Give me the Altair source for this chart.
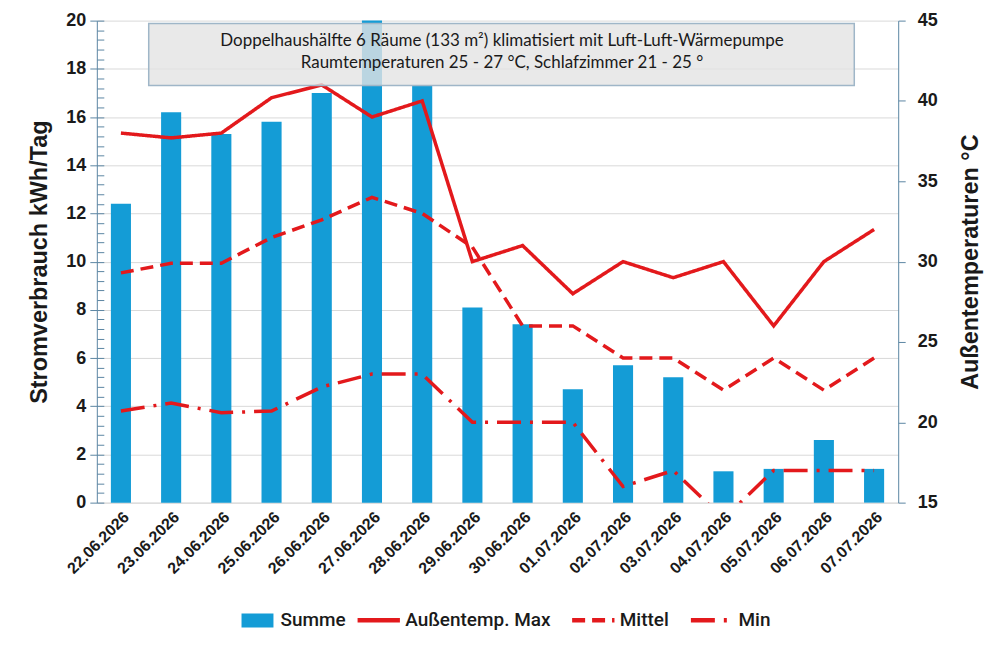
import altair as alt
import pandas as pd

dates = ["22.06.2026", "23.06.2026", "24.06.2026", "25.06.2026", "26.06.2026",
         "27.06.2026", "28.06.2026", "29.06.2026", "30.06.2026", "01.07.2026",
         "02.07.2026", "03.07.2026", "04.07.2026", "05.07.2026", "06.07.2026",
         "07.07.2026"]
summe = [12.4, 16.2, 15.3, 15.8, 17.0, 20.0, 17.3, 8.1, 7.4, 4.7, 5.7, 5.2, 1.3, 1.4, 2.6, 1.4]
t_max = [38.0, 37.7, 38.0, 40.2, 41.0, 39.0, 40.0, 30.0, 31.0, 28.0, 30.0, 29.0, 30.0, 26.0, 30.0, 32.0]
t_mittel = [29.3, 29.9, 29.9, 31.5, 32.6, 34.0, 33.0, 30.9, 26.0, 26.0, 24.0, 24.0, 22.0, 24.0, 22.0, 24.0]
t_min = [20.7, 21.2, 20.6, 20.7, 22.2, 23.0, 23.0, 20.0, 20.0, 20.0, 16.0, 17.0, 14.0, 17.0, 17.0, 17.0]

series_names = ["Außentemp. Max", "Mittel", "Min"]
left_ticks = [0, 2, 4, 6, 8, 10, 12, 14, 16, 18, 20]
left_minor = [round(i * 0.4, 1) for i in range(51)]
right_ticks = [15, 20, 25, 30, 35, 40, 45]
title_lines = ["Doppelhaushälfte 6 Räume (133 m²) klimatisiert mit Luft-Luft-Wärmepumpe",
               "Raumtemperaturen 25 - 27 °C, Schlafzimmer 21 - 25 °"]

BLUE = "#149cd6"
RED = "#e3191c"
AXC = "#5b86a3"
FONT = "Liberation Sans"
LFONT = "Roboto"

bars_df = pd.DataFrame({"date": dates, "summe": summe, "k": "Summe"})
lines_df = pd.DataFrame({
    "date": dates * 3,
    "series": [series_names[0]] * 16 + [series_names[1]] * 16 + [series_names[2]] * 16,
    "value": t_max + t_mittel + t_min,
})
one = pd.DataFrame({"a": [0]})

xenc = alt.X("date:N", sort=dates, title=None,
             scale=alt.Scale(paddingInner=0.6, paddingOuter=0.28),
             axis=alt.Axis(labelAngle=-45, labelFontSize=16, labelFontWeight="bold",
                           labelFont=FONT, labelColor="#1a1a1a", ticks=False,
                           domainColor="#d9d9d9", labelPadding=6))

bars = alt.Chart(bars_df).mark_bar(color=BLUE).encode(
    x=xenc,
    y=alt.Y("summe:Q", title="Stromverbrauch kWh/Tag",
            scale=alt.Scale(domain=[0, 20], nice=False),
            axis=alt.Axis(orient="left", values=left_ticks, grid=True, gridColor="#d9d9d9",
                          domainColor=AXC, tickColor=AXC, tickSize=7, labelFontSize=18,
                          labelFontWeight="bold", labelFont=FONT, labelColor="#1a1a1a",
                          labelPadding=4, titleFontSize=23.5, titleFont=FONT,
                          titleFontWeight="bold", titleColor="#1a1a1a", titlePadding=14)),
    fill=alt.Fill("k:N", scale=alt.Scale(range=[BLUE]),
                  legend=alt.Legend(title=None, orient="none", legendX=141, legendY=581,
                                    symbolType="M-0.8,-0.35L0.8,-0.35L0.8,0.35L-0.8,0.35Z",
                                    symbolSize=1600, symbolStrokeWidth=0, labelFontSize=19,
                                    labelFont=LFONT, labelFontWeight=500, labelColor="#1a1a1a",
                                    labelOffset=3)),
)

minor = alt.Chart(bars_df).mark_bar(opacity=0).encode(
    x=alt.X("date:N", sort=dates),
    y=alt.Y("summe:Q",
            axis=alt.Axis(orient="left", values=left_minor, grid=False, domain=False,
                          labels=False, title=None, tickColor=AXC, tickSize=7, offset=-7)),
)

left = alt.layer(bars, minor).resolve_axis(y="independent")

lines = alt.Chart(lines_df).mark_line(strokeWidth=3.5, clip=True).encode(
    x=alt.X("date:N", sort=dates),
    y=alt.Y("value:Q", title="Außentemperaturen °C",
            scale=alt.Scale(domain=[15, 45], nice=False),
            axis=alt.Axis(orient="right", values=right_ticks, grid=False,
                          domainColor=AXC, tickColor=AXC, tickSize=7, labelFontSize=18,
                          labelFontWeight="bold", labelFont=FONT, labelColor="#1a1a1a",
                          labelPadding=12, titleFontSize=23.5, titleFont=FONT, titleAngle=270,
                          titleFontWeight="bold", titleColor="#1a1a1a", titlePadding=45)),
    stroke=alt.Stroke("series:N", sort=series_names,
                      scale=alt.Scale(domain=series_names, range=[RED, RED, RED]),
                      legend=alt.Legend(title=None, orient="none", legendX=259, legendY=577,
                                        direction="horizontal", symbolType="stroke",
                                        symbolSize=1800, symbolStrokeWidth=4.5,
                                        labelFontSize=19, labelFont=LFONT, labelFontWeight=500,
                                        labelColor="#1a1a1a", columnPadding=12, labelOffset=3)),
    strokeDash=alt.StrokeDash("series:N", sort=series_names,
                              scale=alt.Scale(domain=series_names,
                                              range=[[1, 0], [13, 7], [24, 9, 3, 9]]),
                              legend=alt.Legend(title=None, orient="none")),
)

box = alt.Chart(one).mark_rect(fill="#e4e4e4", fillOpacity=0.8, stroke="#9fb6c8",
                               strokeWidth=1.5).encode(
    x=alt.value(52), x2=alt.value(759), y=alt.value(3), y2=alt.value(65))
t1 = alt.Chart(one).mark_text(text=title_lines[0], font="Lato", fontSize=17,
                              color="#1a1a1a").encode(x=alt.value(406), y=alt.value(20))
t2 = alt.Chart(one).mark_text(text=title_lines[1], font="Lato", fontSize=17,
                              color="#1a1a1a").encode(x=alt.value(406), y=alt.value(42))

chart = alt.layer(left, lines, box, t1, t2).resolve_scale(
    y="independent"
).properties(
    width=803, height=483,
    padding={"left": 19, "top": 3, "right": 10, "bottom": 5},
).configure_view(stroke=None)

chart.save("out.html", embed_options={"renderer": "svg", "actions": False})
